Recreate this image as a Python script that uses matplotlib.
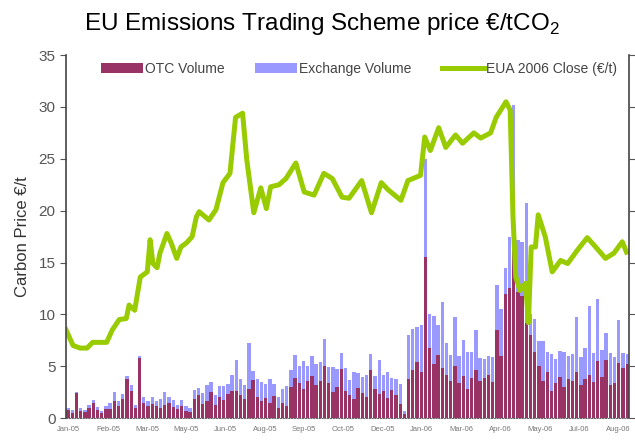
import numpy as np
import matplotlib
matplotlib.use("Agg")
import matplotlib.pyplot as plt

plt.rcParams['font.family'] = ['Liberation Sans', 'DejaVu Sans']
plt.rcParams['mathtext.fontset'] = 'custom'
plt.rcParams['mathtext.rm'] = 'Liberation Sans'

# x axis labels (one every 28 trading days)
month_labels = ['Jan-05', 'Feb-05', 'Mar-05', 'May-05', 'Jun-05', 'Aug-05', 'Sep-05',
                'Oct-05', 'Dec-05', 'Jan-06', 'Mar-06', 'Apr-06', 'May-06', 'Jul-06', 'Aug-06']

# traded volumes, one value per 3 trading days
otc_volume = [
    0.8, 0.5, 2.4, 0.7, 0.6, 1.0, 1.5, 0.8, 0.5, 0.9,
    0.9, 1.6, 1.2, 1.8, 3.8, 2.6, 1.0, 5.8, 1.5, 1.2,
    1.4, 1.2, 1.0, 1.3, 1.5, 1.1, 0.9, 1.2, 0.7, 0.6,
    1.8, 2.2, 1.4, 1.6, 2.5, 1.3, 2.0, 1.7, 2.3, 2.6,
    2.6, 2.2, 1.8, 2.8, 3.7, 2.0, 1.6, 1.9, 1.5, 2.1,
    1.0, 1.5, 1.2, 3.0, 3.9, 3.4, 2.8, 3.6, 4.1, 3.2,
    3.6, 5.0, 3.4, 2.5, 3.0, 4.7, 2.6, 2.2, 1.8, 2.9,
    2.4, 2.0, 4.6, 2.8, 2.3, 2.6, 1.9, 2.7, 2.2, 1.4,
    0.4, 3.8, 4.6, 5.4, 4.4, 15.5, 6.8, 5.2, 6.1, 4.8,
    4.2, 3.6, 5.0, 3.4, 4.1, 2.8, 3.9, 4.6, 3.6, 3.9,
    4.2, 3.5, 8.5, 6.0, 12.0, 12.5, 19.6, 12.2, 11.8, 9.2,
    8.0, 6.4, 5.0, 3.6, 4.4, 2.6, 3.4, 4.0, 3.0, 3.8,
    3.6, 4.4, 3.2, 3.8, 4.2, 3.5, 5.5, 4.0, 5.6, 3.2,
    3.4, 5.3, 4.8, 5.2,
]
exchange_volume = [
    0.2, 0.3, 0.1, 0.3, 0.2, 0.3, 0.2, 0.3, 0.2, 0.3,
    0.6, 0.9, 0.4, 0.5, 0.3, 0.6, 0.3, 0.2, 0.5, 0.4,
    0.6, 0.4, 0.8, 1.2, 0.5, 0.6, 0.4, 0.5, 0.5, 0.4,
    0.9, 0.7, 1.0, 1.6, 1.0, 0.9, 1.1, 1.4, 1.0, 1.6,
    3.0, 1.6, 1.4, 4.4, 0.8, 1.8, 1.9, 1.4, 2.3, 1.2,
    1.0, 1.3, 1.9, 1.6, 2.2, 1.6, 2.7, 1.4, 1.9, 2.0,
    1.8, 2.6, 1.5, 2.4, 1.7, 1.6, 2.2, 1.5, 2.6, 1.4,
    1.6, 2.2, 1.6, 1.3, 3.3, 1.6, 2.5, 1.2, 1.6, 1.9,
    0.3, 4.2, 4.0, 3.4, 4.6, 9.5, 3.2, 4.6, 2.9, 6.4,
    3.0, 2.5, 4.7, 2.6, 3.4, 3.6, 2.5, 3.9, 2.2, 1.8,
    1.8, 2.4, 4.3, 4.5, 2.5, 5.0, 10.6, 5.0, 5.2, 11.5,
    2.0, 3.2, 2.4, 3.8, 2.0, 3.6, 2.3, 2.5, 3.4, 2.2,
    2.6, 5.3, 2.7, 3.0, 6.6, 2.8, 6.0, 2.6, 2.6, 3.1,
    2.5, 4.2, 1.5, 1.0,
]

# EUA 2006 close price (trading day, EUR/t)
price_day = [0, 5, 10, 15, 19, 29, 33, 38, 43, 45, 49, 53, 58, 60, 62, 65, 67, 72, 75, 79,
             82, 86, 90, 93, 95, 102, 107, 112, 117, 121, 126, 129, 134, 139, 143, 146, 152,
             157, 164, 170, 177, 184, 190, 197, 202, 211, 218, 225, 230, 239, 244, 253, 256,
             260, 266, 271, 278, 283, 291, 296, 303, 307, 314, 317, 319, 321, 324, 328, 330,
             332, 335, 337, 342, 347, 353, 358, 365, 372, 378, 385, 391, 397, 400]
price_close = [8.5, 7.0, 6.75, 6.75, 7.3, 7.3, 8.5, 9.5, 9.6, 10.9, 10.4, 13.6, 14.1, 17.2,
               14.9, 14.5, 15.9, 17.8, 16.9, 15.4, 16.5, 16.9, 17.5, 19.4, 19.9, 19.1, 20.1,
               22.7, 23.6, 29.0, 29.4, 24.9, 19.8, 22.2, 20.2, 22.3, 22.5, 23.1, 24.6, 21.8,
               21.5, 23.6, 23.1, 21.3, 21.2, 22.9, 19.8, 22.7, 22.0, 21.0, 22.9, 23.4, 27.1,
               25.8, 28.0, 26.1, 27.3, 26.5, 27.5, 27.0, 27.5, 29.0, 30.5, 29.7, 19.4, 13.6,
               12.3, 13.0, 9.2, 16.5, 16.5, 19.6, 17.5, 14.1, 15.2, 14.9, 16.2, 17.4, 16.5,
               15.4, 15.9, 17.0, 16.0]

otc = np.array(otc_volume)
exch = np.array(exchange_volume)
bar_days = np.arange(len(otc)) * 3 + 1.5

fig = plt.figure(figsize=(6.35, 4.41), dpi=100)
ax = fig.add_axes([0.104, 0.052, 0.887, 0.823])

b1 = ax.bar(bar_days, otc, width=2.4, color='#993366', label='OTC Volume', linewidth=0)
b2 = ax.bar(bar_days, exch, width=2.4, bottom=otc, color='#9999ff', label='Exchange Volume',
            linewidth=0)
l1, = ax.plot(price_day, price_close, color='#99cc00', linewidth=3.6,
              label='EUA 2006 Close (€/t)')

ax.set_xlim(0, 402)
ax.set_ylim(0, 35)
ax.set_yticks(np.arange(0, 36, 5))
ax.set_xticks(np.arange(len(month_labels)) * 28 + 2)
ax.set_xticklabels(month_labels, fontsize=5.5, color='#777777')
ax.tick_params(axis='x', length=0, pad=6)
ax.tick_params(axis='y', labelsize=11, colors='#555555', direction='out', length=4,
               right=True, labelright=False)

for side in ['left', 'right']:
    ax.spines[side].set_color('#444444')
    ax.spines[side].set_linewidth(1.2)
ax.spines['top'].set_visible(False)
ax.spines['bottom'].set_linestyle((0, (1, 1.5)))
ax.spines['bottom'].set_color('#666666')

ax.set_ylabel('Carbon Price €/t', fontsize=12, color='#333333', labelpad=6)
fig.suptitle('EU Emissions Trading Scheme price €/tCO$_2$', fontsize=17.5, x=0.507, y=0.975)

ax.legend(handles=[b1, b2, l1], loc='upper center', ncol=3, frameon=False, fontsize=10,
          handlelength=3.0, handletextpad=0.15, columnspacing=2.2,
          bbox_to_anchor=(0.52, 1.015), labelcolor='#444444')

fig.savefig('out.png', dpi=100)
